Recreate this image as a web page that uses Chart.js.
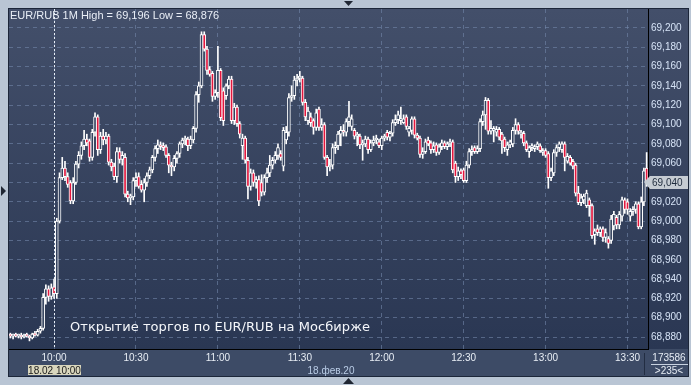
<!DOCTYPE html>
<html>
<head>
<meta charset="utf-8">
<script src="https://cdn.jsdelivr.net/npm/chart.js@4.4.1/dist/chart.umd.min.js"></script>
<style>
  html, body { margin: 0; padding: 0; background: #b9c5d4; }
  #wrap { position: relative; width: 691px; height: 385px; overflow: hidden; }
</style>
</head>
<body>
<div id="wrap"><canvas id="chart" width="691" height="385"></canvas></div>
<script>
// EUR/RUB 1-minute candles, 18.02.2020, 09:44 .. 13:37
const firstMinute = 9 * 60 + 44;
const xTickLabels = ['10:00', '10:30', '11:00', '11:30', '12:00', '12:30', '13:00', '13:30'];
const yTicks = [68.88, 68.90, 68.92, 68.94, 68.96, 68.98, 69.00, 69.02, 69.04, 69.06, 69.08, 69.10, 69.12, 69.14, 69.16, 69.18, 69.20];

const open = [
  68.882, 68.881, 68.882, 68.881, 68.882, 68.880, 68.882, 68.881, 68.879, 68.883,
  68.882, 68.886, 68.889, 68.921, 68.930, 68.922, 68.932, 68.925, 69.000, 69.045,
  69.055, 69.046, 69.040, 69.021, 69.040, 69.059, 69.068, 69.078, 69.085, 69.083,
  69.066, 69.092, 69.108, 69.074, 69.088, 69.084, 69.088, 69.061, 69.057, 69.046,
  69.072, 69.064, 69.066, 69.028, 69.024, 69.025, 69.042, 69.046, 69.038, 69.032,
  69.040, 69.047, 69.053, 69.066, 69.075, 69.078, 69.077, 69.077, 69.068, 69.058,
  69.056, 69.065, 69.070, 69.080, 69.084, 69.085, 69.078, 69.084, 69.096, 69.131,
  69.140, 69.193, 69.178, 69.157, 69.153, 69.129, 69.133, 69.156, 69.135, 69.130,
  69.140, 69.147, 69.104, 69.118, 69.101, 69.078, 69.086, 69.063, 69.036, 69.050,
  69.040, 69.043, 69.040, 69.030, 69.045, 69.050, 69.058, 69.063, 69.068, 69.070,
  69.057, 69.084, 69.092, 69.128, 69.130, 69.146, 69.148, 69.148, 69.123, 69.104,
  69.108, 69.104, 69.097, 69.116, 69.097, 69.100, 69.066, 69.056, 69.058, 69.076,
  69.078, 69.090, 69.094, 69.092, 69.103, 69.098, 69.094, 69.088, 69.088, 69.079,
  69.080, 69.085, 69.074, 69.081, 69.084, 69.082, 69.078, 69.086, 69.092, 69.087,
  69.091, 69.102, 69.105, 69.104, 69.102, 69.108, 69.092, 69.094, 69.106, 69.089,
  69.086, 69.069, 69.072, 69.084, 69.081, 69.074, 69.079, 69.071, 69.077, 69.081,
  69.077, 69.080, 69.082, 69.060, 69.046, 69.052, 69.053, 69.042, 69.058, 69.072,
  69.076, 69.072, 69.075, 69.103, 69.110, 69.125, 69.093, 69.094, 69.092, 69.095,
  69.090, 69.085, 69.074, 69.079, 69.080, 69.094, 69.100, 69.090, 69.091, 69.081,
  69.072, 69.076, 69.075, 69.077, 69.078, 69.071, 69.073, 69.070, 69.045, 69.050,
  69.071, 69.076, 69.074, 69.080, 69.062, 69.066, 69.062, 69.058, 69.029, 69.019,
  69.022, 69.016, 69.022, 69.016, 68.986, 68.992, 68.988, 68.992, 68.983, 68.982,
  68.980, 68.995, 69.004, 68.996, 69.005, 69.022, 69.020, 69.005, 69.010, 69.012,
  69.018, 68.994, 69.020, 69.055
];
const high = [
  68.884, 68.883, 68.884, 68.883, 68.884, 68.883, 68.884, 68.882, 68.884, 68.886,
  68.888, 68.891, 68.925, 68.934, 68.933, 68.935, 68.940, 69.003, 69.050, 69.066,
  69.062, 69.050, 69.042, 69.045, 69.062, 69.072, 69.082, 69.094, 69.090, 69.085,
  69.095, 69.112, 69.110, 69.092, 69.095, 69.092, 69.090, 69.064, 69.060, 69.076,
  69.076, 69.072, 69.070, 69.031, 69.028, 69.045, 69.050, 69.050, 69.042, 69.044,
  69.050, 69.056, 69.068, 69.078, 69.084, 69.082, 69.081, 69.079, 69.070, 69.061,
  69.068, 69.072, 69.082, 69.086, 69.088, 69.087, 69.088, 69.098, 69.134, 69.144,
  69.196, 69.196, 69.181, 69.160, 69.155, 69.136, 69.181, 69.158, 69.138, 69.142,
  69.150, 69.150, 69.122, 69.120, 69.103, 69.090, 69.088, 69.066, 69.054, 69.053,
  69.046, 69.047, 69.048, 69.048, 69.055, 69.068, 69.066, 69.072, 69.080, 69.073,
  69.097, 69.098, 69.132, 69.140, 69.150, 69.152, 69.155, 69.150, 69.126, 69.118,
  69.112, 69.106, 69.116, 69.118, 69.106, 69.102, 69.068, 69.064, 69.080, 69.082,
  69.093, 69.098, 69.100, 69.106, 69.124, 69.110, 69.096, 69.092, 69.090, 69.084,
  69.088, 69.087, 69.084, 69.088, 69.089, 69.085, 69.088, 69.090, 69.094, 69.093,
  69.105, 69.110, 69.114, 69.118, 69.110, 69.110, 69.098, 69.108, 69.108, 69.091,
  69.088, 69.076, 69.085, 69.087, 69.083, 69.082, 69.081, 69.080, 69.084, 69.083,
  69.082, 69.085, 69.084, 69.062, 69.056, 69.054, 69.055, 69.062, 69.075, 69.078,
  69.078, 69.078, 69.106, 69.114, 69.128, 69.127, 69.104, 69.098, 69.098, 69.097,
  69.092, 69.087, 69.082, 69.084, 69.097, 69.106, 69.102, 69.094, 69.093, 69.083,
  69.078, 69.080, 69.079, 69.082, 69.080, 69.075, 69.075, 69.072, 69.055, 69.074,
  69.079, 69.082, 69.082, 69.082, 69.070, 69.068, 69.064, 69.060, 69.036, 69.028,
  69.028, 69.032, 69.024, 69.018, 68.992, 68.996, 68.994, 68.994, 68.992, 68.984,
  69.006, 69.010, 69.006, 69.010, 69.025, 69.024, 69.023, 69.013, 69.015, 69.020,
  69.020, 69.025, 69.055, 69.071
];
const low = [
  68.879, 68.878, 68.880, 68.879, 68.878, 68.879, 68.880, 68.876, 68.878, 68.881,
  68.881, 68.884, 68.887, 68.914, 68.917, 68.919, 68.920, 68.920, 68.998, 69.043,
  69.042, 69.035, 69.018, 69.018, 69.038, 69.055, 69.064, 69.074, 69.078, 69.062,
  69.063, 69.088, 69.068, 69.070, 69.079, 69.080, 69.058, 69.052, 69.043, 69.040,
  69.060, 69.058, 69.025, 69.020, 69.017, 69.022, 69.036, 69.034, 69.030, 69.020,
  69.036, 69.044, 69.050, 69.062, 69.070, 69.074, 69.073, 69.066, 69.050, 69.047,
  69.052, 69.060, 69.066, 69.076, 69.079, 69.073, 69.075, 69.081, 69.092, 69.123,
  69.138, 69.176, 69.152, 69.150, 69.124, 69.126, 69.128, 69.104, 69.099, 69.126,
  69.137, 69.101, 69.100, 69.098, 69.086, 69.064, 69.060, 69.023, 69.032, 69.036,
  69.034, 69.016, 69.026, 69.027, 69.040, 69.046, 69.054, 69.060, 69.064, 69.063,
  69.052, 69.080, 69.088, 69.124, 69.126, 69.140, 69.144, 69.120, 69.104, 69.100,
  69.098, 69.090, 69.094, 69.094, 69.094, 69.064, 69.047, 69.052, 69.054, 69.070,
  69.074, 69.078, 69.088, 69.088, 69.098, 69.094, 69.085, 69.078, 69.075, 69.063,
  69.077, 69.070, 69.072, 69.078, 69.080, 69.076, 69.074, 69.083, 69.084, 69.083,
  69.088, 69.099, 69.101, 69.100, 69.101, 69.095, 69.088, 69.090, 69.086, 69.084,
  69.066, 69.065, 69.070, 69.078, 69.070, 69.071, 69.068, 69.069, 69.074, 69.075,
  69.074, 69.077, 69.050, 69.040, 69.042, 69.044, 69.040, 69.040, 69.055, 69.068,
  69.070, 69.070, 69.072, 69.099, 69.095, 69.090, 69.090, 69.082, 69.088, 69.084,
  69.070, 69.072, 69.068, 69.076, 69.077, 69.090, 69.090, 69.086, 69.078, 69.072,
  69.066, 69.073, 69.072, 69.074, 69.071, 69.068, 69.066, 69.034, 69.042, 69.047,
  69.067, 69.072, 69.071, 69.052, 69.060, 69.058, 69.054, 69.026, 69.017, 69.016,
  69.018, 69.014, 69.005, 68.982, 68.976, 68.985, 68.984, 68.979, 68.978, 68.972,
  68.977, 68.991, 68.992, 68.992, 69.000, 69.008, 69.007, 69.000, 69.006, 69.008,
  68.992, 68.992, 69.016, 69.036
];
const close = [
  68.881, 68.882, 68.881, 68.882, 68.880, 68.882, 68.881, 68.879, 68.883, 68.882,
  68.886, 68.889, 68.921, 68.930, 68.922, 68.931, 68.925, 69.000, 69.045, 69.055,
  69.046, 69.038, 69.021, 69.040, 69.059, 69.068, 69.078, 69.085, 69.081, 69.066,
  69.092, 69.108, 69.074, 69.088, 69.084, 69.088, 69.061, 69.056, 69.046, 69.072,
  69.064, 69.068, 69.028, 69.024, 69.025, 69.042, 69.045, 69.036, 69.032, 69.040,
  69.047, 69.053, 69.066, 69.075, 69.079, 69.077, 69.076, 69.068, 69.058, 69.056,
  69.065, 69.070, 69.080, 69.084, 69.085, 69.078, 69.085, 69.096, 69.131, 69.140,
  69.193, 69.178, 69.156, 69.152, 69.129, 69.133, 69.156, 69.107, 69.104, 69.140,
  69.147, 69.104, 69.118, 69.101, 69.090, 69.086, 69.063, 69.036, 69.050, 69.040,
  69.043, 69.021, 69.030, 69.045, 69.050, 69.058, 69.063, 69.068, 69.076, 69.066,
  69.094, 69.092, 69.128, 69.130, 69.146, 69.148, 69.150, 69.123, 69.108, 69.114,
  69.102, 69.097, 69.112, 69.097, 69.100, 69.066, 69.056, 69.058, 69.076, 69.078,
  69.090, 69.094, 69.092, 69.103, 69.108, 69.106, 69.088, 69.090, 69.079, 69.080,
  69.085, 69.074, 69.081, 69.084, 69.086, 69.078, 69.086, 69.088, 69.087, 69.091,
  69.102, 69.105, 69.110, 69.106, 69.106, 69.098, 69.096, 69.106, 69.089, 69.086,
  69.069, 69.072, 69.082, 69.080, 69.074, 69.078, 69.071, 69.077, 69.081, 69.077,
  69.080, 69.082, 69.053, 69.046, 69.052, 69.048, 69.042, 69.058, 69.072, 69.074,
  69.072, 69.075, 69.103, 69.110, 69.125, 69.093, 69.096, 69.096, 69.095, 69.087,
  69.083, 69.076, 69.079, 69.082, 69.094, 69.100, 69.093, 69.092, 69.081, 69.074,
  69.076, 69.078, 69.077, 69.080, 69.073, 69.073, 69.068, 69.045, 69.052, 69.071,
  69.076, 69.080, 69.080, 69.066, 69.067, 69.060, 69.057, 69.029, 69.019, 69.024,
  69.026, 69.029, 69.016, 68.985, 68.990, 68.988, 68.992, 68.983, 68.988, 68.977,
  69.002, 69.007, 68.996, 69.007, 69.022, 69.012, 69.012, 69.010, 69.012, 69.018,
  68.994, 69.020, 69.052, 69.040
];

// minute labels for the category axis
const times = open.map((_, i) => {
  const m = firstMinute + i;
  return String(Math.floor(m / 60)).padStart(2, '0') + ':' + String(m % 60).padStart(2, '0');
});

const upFill = '#34425e';
const downFill = '#e3173e';
const fmt = v => v.toFixed(3).replace('.', ',');

const decor = {
  id: 'decor',
  beforeDraw(chart) {
    const { ctx, chartArea: a } = chart;
    ctx.save();
    ctx.fillStyle = '#b9c5d4';
    ctx.fillRect(0, 0, chart.width, chart.height);
    ctx.fillStyle = '#1c2639';
    ctx.fillRect(8, 8, 681, 369);
    const g = ctx.createLinearGradient(0, 9, 0, a.bottom);
    g.addColorStop(0, '#434f6a');
    g.addColorStop(1, '#2a3753');
    ctx.fillStyle = g;
    ctx.fillRect(9, 9, 679, a.bottom - 9);
    ctx.fillStyle = '#3d4b66';
    ctx.fillRect(9, a.bottom, 679, 376 - a.bottom);
    ctx.restore();
  },
  afterDraw(chart) {
    const { ctx, chartArea: a, scales } = chart;
    ctx.save();
    // crosshair at 10:00
    const cx = Math.round(scales.x.getPixelForValue(times.indexOf('10:00'))) + 0.5;
    ctx.strokeStyle = '#e8eef6';
    ctx.lineWidth = 1;
    ctx.setLineDash([2, 2]);
    ctx.beginPath();
    ctx.moveTo(cx, a.top);
    ctx.lineTo(cx, a.bottom);
    ctx.stroke();
    ctx.setLineDash([]);

    // header
    ctx.font = '11px "Liberation Sans", Arial, sans-serif';
    ctx.fillStyle = '#e9eef6';
    ctx.textBaseline = 'alphabetic';
    ctx.textAlign = 'left';
    ctx.fillText('EUR/RUB 1M High = ' + fmt(Math.max(...high)) + ' Low = ' + fmt(Math.min(...low)), 10, 19);

    // annotation
    const note = 'Открытие торгов по EUR/RUB на Мосбирже';
    ctx.font = '13px "DejaVu Sans", sans-serif';
    const w = ctx.measureText(note).width;
    ctx.letterSpacing = ((300 - w) / (note.length - 1)).toFixed(2) + 'px';
    ctx.fillStyle = '#f4f6fa';
    ctx.fillText(note, 70, 331);
    ctx.letterSpacing = '0px';

    // date box under crosshair
    ctx.font = '10px "Liberation Sans", Arial, sans-serif';
    ctx.fillStyle = '#d9d6bd';
    ctx.fillRect(28, 365, 53, 10);
    ctx.fillStyle = '#1a1a1a';
    ctx.textAlign = 'center';
    ctx.fillText('18.02 10:00', 54.5, 374);
    ctx.fillStyle = '#b9cce6';
    ctx.fillText('18.фев.20', 331, 374);

    // bottom-right counters
    ctx.strokeStyle = '#222d42';
    ctx.beginPath();
    ctx.moveTo(644.5, 353);
    ctx.lineTo(644.5, 375);
    ctx.stroke();
    ctx.fillStyle = '#e6ecf4';
    ctx.fillText('173586', 669, 361);
    ctx.strokeStyle = '#c8d2e0';
    ctx.beginPath();
    ctx.moveTo(651, 364.5);
    ctx.lineTo(688, 364.5);
    ctx.stroke();
    ctx.fillText('>235<', 669, 374);

    // last price marker
    const last = close[close.length - 1];
    const py = Math.round(scales.y.getPixelForValue(last));
    ctx.fillStyle = '#c6ccd3';
    ctx.beginPath();
    ctx.moveTo(644, py);
    ctx.lineTo(650, py - 6);
    ctx.lineTo(688, py - 6);
    ctx.lineTo(688, py + 7);
    ctx.lineTo(650, py + 7);
    ctx.closePath();
    ctx.fill();
    ctx.fillStyle = '#1e2a3c';
    ctx.textAlign = 'left';
    ctx.fillText(fmt(last), 652, py + 4);

    // window arrows
    ctx.fillStyle = '#1f2633';
    ctx.beginPath();
    ctx.moveTo(1, 186); ctx.lineTo(6, 191); ctx.lineTo(1, 196); ctx.closePath(); ctx.fill();
    ctx.beginPath();
    ctx.moveTo(344, 1); ctx.lineTo(353, 1); ctx.lineTo(348.5, 6); ctx.closePath(); ctx.fill();
    ctx.beginPath();
    ctx.moveTo(343, 384); ctx.lineTo(354, 384); ctx.lineTo(348.5, 378); ctx.closePath(); ctx.fill();
    ctx.restore();
  }
};

new Chart(document.getElementById('chart'), {
  type: 'bar',
  data: {
    labels: times,
    datasets: [
      {
        label: 'body',
        data: open.map((o, i) => [o, close[i]]),
        backgroundColor: open.map((o, i) => close[i] < o ? downFill : upFill),
        borderColor: '#ffffff',
        borderWidth: 1,
        borderSkipped: false,
        barThickness: 3,
        minBarLength: 2,
        grouped: false,
        order: 0
      },
      {
        label: 'wick',
        data: low.map((l, i) => [l, high[i]]),
        backgroundColor: '#ffffff',
        borderWidth: 0,
        barThickness: 1,
        grouped: false,
        order: 1
      }
    ]
  },
  options: {
    responsive: false,
    animation: false,
    layout: { padding: { left: 9, top: 8, right: 0, bottom: 0 } },
    plugins: { legend: { display: false }, tooltip: { enabled: false } },
    scales: {
      x: {
        type: 'category',
        offset: true,
        afterFit(scale) { scale.height = 36; },
        afterBuildTicks(scale) {
          scale.ticks = xTickLabels.map(t => ({ value: times.indexOf(t) }));
        },
        ticks: {
          autoSkip: false,
          maxRotation: 0,
          padding: 3,
          color: '#e8eef5',
          font: { family: '"Liberation Sans", Arial, sans-serif', size: 10 },
          callback(value) { return times[value]; }
        },
        grid: {
          offset: false,
          drawTicks: false,
          color: 'rgba(115,135,170,0.6)'
        },
        border: { display: true, color: '#000000', width: 1, dash: [4, 4] }
      },
      y: {
        position: 'right',
        min: 68.8676,
        max: 69.2196,
        afterFit(scale) { scale.width = 43; },
        afterBuildTicks(scale) {
          scale.ticks = yTicks.map(v => ({ value: v }));
        },
        ticks: {
          padding: 3,
          color: '#d6e3f6',
          font: { family: '"Liberation Sans", Arial, sans-serif', size: 10 },
          callback(value) { return fmt(value); }
        },
        grid: {
          drawTicks: false,
          color: 'rgba(115,135,170,0.6)'
        },
        border: { display: true, color: '#000000', width: 1, dash: [4, 4] }
      }
    }
  },
  plugins: [decor]
});
</script>
</body>
</html>
